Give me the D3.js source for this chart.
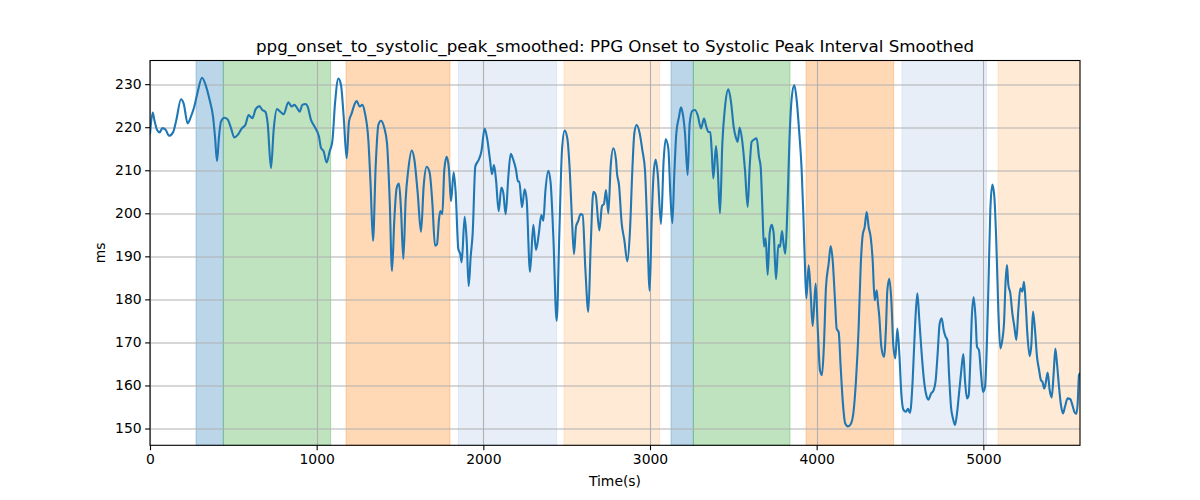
<!DOCTYPE html>
<html>
<head>
<meta charset="utf-8">
<script src="https://cdn.jsdelivr.net/npm/d3@7"></script>
<style>
  html, body { margin: 0; padding: 0; background: #fff; }
  svg { display: block; font-family: "DejaVu Sans", sans-serif; }
</style>
</head>
<body>
<svg id="chart" width="1200" height="500"></svg>
<script>
// ---- data ----
const chartTitle = "ppg_onset_to_systolic_peak_smoothed: PPG Onset to Systolic Peak Interval Smoothed";
const xLabel = "Time(s)";
const yLabel = "ms";
const xTicks = [0, 1000, 2000, 3000, 4000, 5000];
const yTicks = [150, 160, 170, 180, 190, 200, 210, 220, 230];

const times = [
  0,16,26,42,58,74,94,114,138,158,186,202,226,246,266,286,312,334,358,378,390,402,414,426,446,466,486,506,526,552,572,592,614,634,656,674,692,706,726,742,762,782,802,830,850,866,882,898,914,934,
  946,966,982,998,1014,1026,1042,1060,1078,1094,1110,1130,1146,1162,1180,1194,1210,1226,1240,1258,1274,1290,1310,1324,1338,1354,1370,1386,1406,1422,1438,1452,1466,1480,1494,1506,1520,1534,1550,1570,1586,1606,1626,1642,1660,1678,1694,1710,1722,1734,1742,1754,1766,1780,1794,1806,1822,1834,1850,1862,1870,
  1888,1900,1912,1924,1936,1952,1972,1988,2008,2024,2040,2052,2064,2076,2092,2108,2120,2134,2150,2164,2180,2196,2208,2216,2232,2248,2260,2280,2300,2316,2332,2348,2360,2372,2390,2404,2420,2440,2456,2472,2488,2504,2520,2532,2544,2556,2568,2584,2596,2612,2630,2644,2660,2674,2696,2712,2724,2736,2750,2764,2780,2796,
  2802,2814,2830,2846,2864,2880,2894,2906,2920,2938,2954,2970,2982,2998,3010,3022,3034,3046,3066,3082,3094,3110,3122,3134,3146,3158,3174,3186,3198,3210,3226,3238,3254,3270,3286,3306,3324,3338,3350,3362,3370,3380,3396,3406,3420,3434,3450,3470,3486,3502,3514,3526,3538,3554,3570,3586,3598,3610,3626,3640,3654,3664,3674,3684,3694,3706,3718,3730,3742,3756,3770,
  3780,3792,3800,3812,3824,3836,3850,3866,3880,3896,3910,3920,3928,3938,3952,3964,3976,3994,4006,4020,4032,4044,4056,4072,4084,4096,4110,4120,4132,4144,4156,4172,4188,4204,4220,4236,4252,4264,4276,4288,4300,4312,4324,4336,4348,4360,4368,4376,4388,4404,4416,4424,4436,4448,4460,4472,4484,4496,4508,4520,4536,4548,4560,4576,4590,4604,4616,4630,4644,
  4658,4670,4686,4702,4714,4726,4738,4750,4762,4774,4784,4794,4806,4818,4830,4842,4854,4866,4880,4890,4902,4912,4922,4930,4942,4954,4962,4974,4986,4998,5010,5022,5032,5042,5054,5066,5078,5090,5102,5114,5124,5134,5142,5150,5162,5174,5186,5198,5210,5222,5234,5244,5254,5264,5278,5288,5298,5310,5322,5334,5346,5354,5366,5374,5386,5398,5410,5422,5432,5442,5454,5466,5478,5490,5506,5522,5534,5546,5558,5566,5574,5580
];
const values = [
  218.5,223.4,221.7,219.4,218.8,219.8,219.4,218,218.8,221.7,226.5,225.5,220.9,222.5,224.8,228.2,231.5,229.8,226.3,222.5,217.8,212.1,217.8,221.3,222.2,221.8,219.8,217.6,218.2,219.8,220.5,222.8,222.1,224.2,224.9,224,223.6,220.9,210.5,219.4,224.2,223.6,223,225.8,224.8,225.2,224.5,223.6,225.2,225.4,
  224.8,221.7,220.5,219.4,217.8,215.2,214.4,211.8,214.4,216.7,225.5,231.3,229.8,222.5,212.8,221.3,223.2,225.2,226.1,224.8,225.2,223.2,217.1,206.3,193.6,210.9,220.5,221.5,219.8,216.3,203.2,186.6,198.6,205.9,206.9,200.9,189.4,203.2,210.2,214.6,212.5,204.8,195.7,206.3,210.8,209.4,202.5,192.5,192.8,198.6,200.5,199.8,210.2,213.1,210.2,202.8,209.5,204.8,191.7,190.5,188.6,
  199.2,193.8,183.1,189.9,195.3,210.9,212.4,214.3,219.7,217.1,212.4,209.1,211.2,207.8,200.5,206,204.7,199.8,208.5,213.8,212.4,210.1,207.4,207.4,201.4,205.6,203.1,186.4,197.3,191.5,195,199.6,198.3,205,209.9,207,194.6,175,195.3,214.7,219.2,217.4,208.9,198.4,190.5,196.9,198.1,199.8,199.6,187.2,177.1,192.2,205,204.3,196,201.7,202.2,205.4,200,210.9,215.1,212.4,
  209.3,206.6,197.7,193.8,188.8,196.1,210,218.6,220.5,218.6,214.7,210,198.4,182,198.4,209.3,212.5,209.3,197.5,212.4,217.2,215.1,204.6,197.7,209.3,218.6,222.4,224.6,222.8,218.6,208.9,220.9,223.8,224,222.8,219.7,222,220.1,218.9,218.9,214.7,208.1,215.6,210.8,200,216.2,224.7,228.8,225.9,220.1,217.8,216.6,219.9,216.6,210,201.5,210.8,216.6,217.2,217.4,213.1,210.8,201.5,192.3,194.2,185.7,195.4,197.3,195.4,184.7,192.6,
  192.2,195.9,193.4,190.6,200.7,216.2,226.7,229.8,226.3,218.5,210,199.9,189.9,180.2,187.9,181.4,173.8,183.7,173.6,163.5,162.4,169.7,182.9,188.3,192.4,189.1,179.8,173.2,172.4,164.3,156.6,151.1,150.5,151,153.5,161.2,173.6,187.6,194.9,196.8,200.3,196.8,194.5,189.1,179.8,182.1,179,175.9,169,166.6,173.6,182.1,184.8,179.8,169.3,166.3,173.2,167.4,158.1,154.4,153.9,154.6,153.6,161.2,173.6,181.4,175.2,167.4,161.2,
  157.7,156.7,158.1,158.9,161.2,167.5,174.4,175.6,172.9,171.3,170.6,162.8,155,152.3,150.8,153.5,158.1,162.8,167.3,161.2,157,157.7,165.9,175.2,180.5,175.2,169,168.2,162.8,158.5,159.7,170.6,185.3,200.8,206.7,203.9,193.1,177.5,168.6,170.6,174.4,184.5,188,183.4,181.4,176.8,173.7,170.6,177.5,182.6,181.8,184.1,179.1,172.1,166.8,169.4,177.2,172.9,166.7,163.7,161.2,160.9,159.3,160.5,163,158.9,157.2,162.8,168.6,165.1,159.7,155.4,153.5,155.1,157,156.8,155.5,153.9,153.4,155.8,162.4,162.8
];

// shaded intervals
const bandStart = [276, 440, 1176, 1850, 2484, 3126, 3260, 3936, 4512, 5088];
const bandEnd   = [440, 1084, 1800, 2440, 3058, 3260, 3840, 4462, 5020, 5580];
const bandKind  = ["blue", "green", "orange", "lightblue", "lightorange", "blue", "green", "orange", "lightblue", "lightorange"];

// ---- layout / style ----
const kindColor = {
  blue: "#1f77b4",
  green: "#2ca02c",
  orange: "#ff7f0e",
  lightblue: "#aec7e8",
  lightorange: "#ffbb78"
};
const W = 1200, H = 500;
const margin = { top: 60.5, right: 120, bottom: 55, left: 150 };
const iw = W - margin.left - margin.right;
const ih = 445.3 - margin.top;
const tickFont = "13.9px";

const svg = d3.select("#chart");
const g = svg.append("g").attr("transform", `translate(${margin.left},${margin.top})`);

const x = d3.scaleLinear().domain([0, 5580]).range([0, iw]);
const y = d3.scaleLinear().domain([146.1, 235.5]).range([ih, 0]);

g.append("defs").append("clipPath").attr("id", "clip")
  .append("rect").attr("width", iw).attr("height", ih);

// bands
const bands = bandStart.map((s, i) => ({ s, e: bandEnd[i], k: bandKind[i] }));
g.append("g").selectAll("rect").data(bands).join("rect")
  .attr("x", d => x(d.s))
  .attr("width", d => x(d.e) - x(d.s))
  .attr("y", 0)
  .attr("height", ih)
  .attr("fill", d => kindColor[d.k])
  .attr("fill-opacity", 0.3)
  .attr("stroke", d => kindColor[d.k])
  .attr("stroke-opacity", 0.3)
  .attr("stroke-width", 1);

// grid
const grid = g.append("g").attr("stroke", "#b0b0b0").attr("stroke-width", 1.1);
grid.selectAll("line.v").data(xTicks).join("line")
  .attr("class", "v")
  .attr("x1", d => Math.round(x(d)) + 0.5).attr("x2", d => Math.round(x(d)) + 0.5)
  .attr("y1", 0).attr("y2", ih);
grid.selectAll("line.h").data(yTicks).join("line")
  .attr("class", "h")
  .attr("y1", d => Math.round(y(d)) + 0.5).attr("y2", d => Math.round(y(d)) + 0.5)
  .attr("x1", 0).attr("x2", iw);

// line
const pts = times.map((t, i) => [t, values[i]]);
g.append("path")
  .datum(pts)
  .attr("clip-path", "url(#clip)")
  .attr("fill", "none")
  .attr("stroke", "#1f77b4")
  .attr("stroke-width", 2.1)
  .attr("stroke-linejoin", "round")
  .attr("stroke-linecap", "round")
  .attr("d", d3.line().x(d => x(d[0])).y(d => y(d[1])).curve(d3.curveMonotoneX));

// axes
const xAxis = d3.axisBottom(x).tickValues(xTicks).tickFormat(d3.format("d")).tickSize(4.9).tickPadding(3.5);
const yAxis = d3.axisLeft(y).tickValues(yTicks).tickFormat(d3.format("d")).tickSize(4.9).tickPadding(3.5);

const gx = g.append("g").attr("transform", `translate(0,${ih})`).call(xAxis);
const gy = g.append("g").call(yAxis);
[gx, gy].forEach(a => {
  a.select(".domain").remove();
  a.selectAll(".tick line").attr("stroke", "#000").attr("stroke-width", 1.1);
  a.selectAll(".tick text").attr("fill", "#000").attr("font-size", tickFont)
    .attr("font-family", "'DejaVu Sans', sans-serif");
});

// spines
g.append("rect").attr("x", 0).attr("y", 0).attr("width", iw).attr("height", ih)
  .attr("fill", "none").attr("stroke", "#000").attr("stroke-width", 1.1);

// labels
svg.append("text").attr("x", margin.left + iw / 2).attr("y", 52)
  .attr("text-anchor", "middle").attr("font-size", "16.7px").attr("fill", "#000")
  .text(chartTitle);
svg.append("text").attr("x", margin.left + iw / 2).attr("y", 486)
  .attr("text-anchor", "middle").attr("font-size", tickFont).attr("fill", "#000")
  .text(xLabel);
svg.append("text").attr("transform", `translate(105,${margin.top + ih / 2}) rotate(-90)`)
  .attr("text-anchor", "middle").attr("font-size", tickFont).attr("fill", "#000")
  .text(yLabel);
</script>
</body>
</html>
